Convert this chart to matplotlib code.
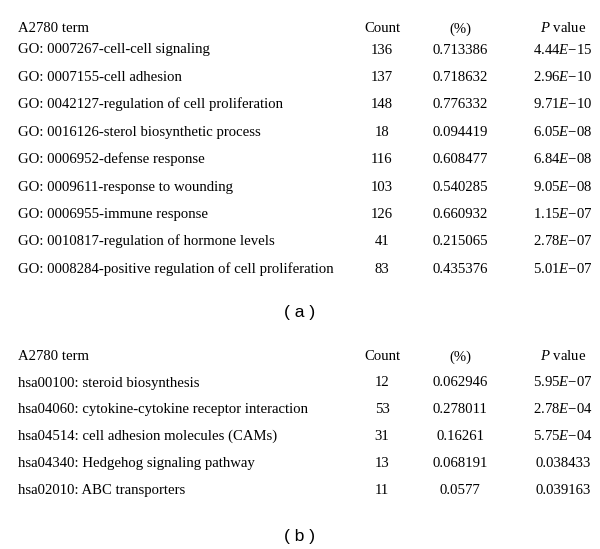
import matplotlib
matplotlib.use("Agg")
import matplotlib.pyplot as plt

plt.rcParams['mathtext.fontset'] = 'custom'
plt.rcParams['mathtext.rm'] = 'Liberation Serif'
plt.rcParams['mathtext.it'] = 'Liberation Serif:italic'

header = ["A2780 term", "Count", "(%)", r"$\mathit{P}$ value"]

terms_a = [
    "GO: 0007267-cell-cell signaling",
    "GO: 0007155-cell adhesion",
    "GO: 0042127-regulation of cell proliferation",
    "GO: 0016126-sterol biosynthetic process",
    "GO: 0006952-defense response",
    "GO: 0009611-response to wounding",
    "GO: 0006955-immune response",
    "GO: 0010817-regulation of hormone levels",
    "GO: 0008284-positive regulation of cell proliferation",
]
counts_a = [136, 137, 148, 18, 116, 103, 126, 41, 83]
pct_a = ["0.713386", "0.718632", "0.776332", "0.094419", "0.608477",
         "0.540285", "0.660932", "0.215065", "0.435376"]
pvals_a = ["4.44E−15", "2.96E−10", "9.71E−10", "6.05E−08", "6.84E−08",
           "9.05E−08", "1.15E−07", "2.78E−07", "5.01E−07"]

terms_b = [
    "hsa00100: steroid biosynthesis",
    "hsa04060: cytokine-cytokine receptor interaction",
    "hsa04514: cell adhesion molecules (CAMs)",
    "hsa04340: Hedgehog signaling pathway",
    "hsa02010: ABC transporters",
]
counts_b = [12, 53, 31, 13, 11]
pct_b = ["0.062946", "0.278011", "0.16261", "0.068191", "0.0577"]
pvals_b = ["5.95E−07", "2.78E−04", "5.75E−04", "0.038433", "0.039163"]

W, H = 600, 549
fig = plt.figure(figsize=(W / 100, H / 100), dpi=100)
fig.patch.set_facecolor("white")

FS = 10.6
SERIF = "Liberation Serif"
COL_X = [18, 382, 460, 563]


def fmt_p(s):
    if "E" in s:
        a, b = s.split("E")
        return a + r"$\mathit{E}$" + b
    return s


def put(x, y, s, ha, va="baseline", **kw):
    fig.text(x / W, 1 - y / H, s, ha=ha, va=va, **kw)


def table(yh, y1, dy, terms, counts, pcts, pvals, label, ylab):
    put(COL_X[0], yh, header[0], "left", family=SERIF, fontsize=FS)
    for j in range(1, 4):
        put(COL_X[j], yh, header[j], "center", family=SERIF, fontsize=FS)
    for i, (t, c, p, pv) in enumerate(zip(terms, counts, pcts, pvals)):
        y = y1 + dy * i
        put(COL_X[0], y, t, "left", family=SERIF, fontsize=FS)
        put(COL_X[1], y, str(c), "center", family=SERIF, fontsize=FS)
        put(COL_X[2], y, p, "center", family=SERIF, fontsize=FS)
        put(COL_X[3], y, fmt_p(pv), "center", family=SERIF, fontsize=FS)
    put(300, ylab, label, "center", va="center",
        family="Liberation Sans", fontsize=12.5)


table(32.5, 53.5, 27.4, terms_a, counts_a, pct_a, pvals_a, "( a )", 312)
table(360.5, 386.5, 26.8, terms_b, counts_b, pct_b, pvals_b, "( b )", 537)

fig.savefig("out.png", dpi=100, facecolor="white")
